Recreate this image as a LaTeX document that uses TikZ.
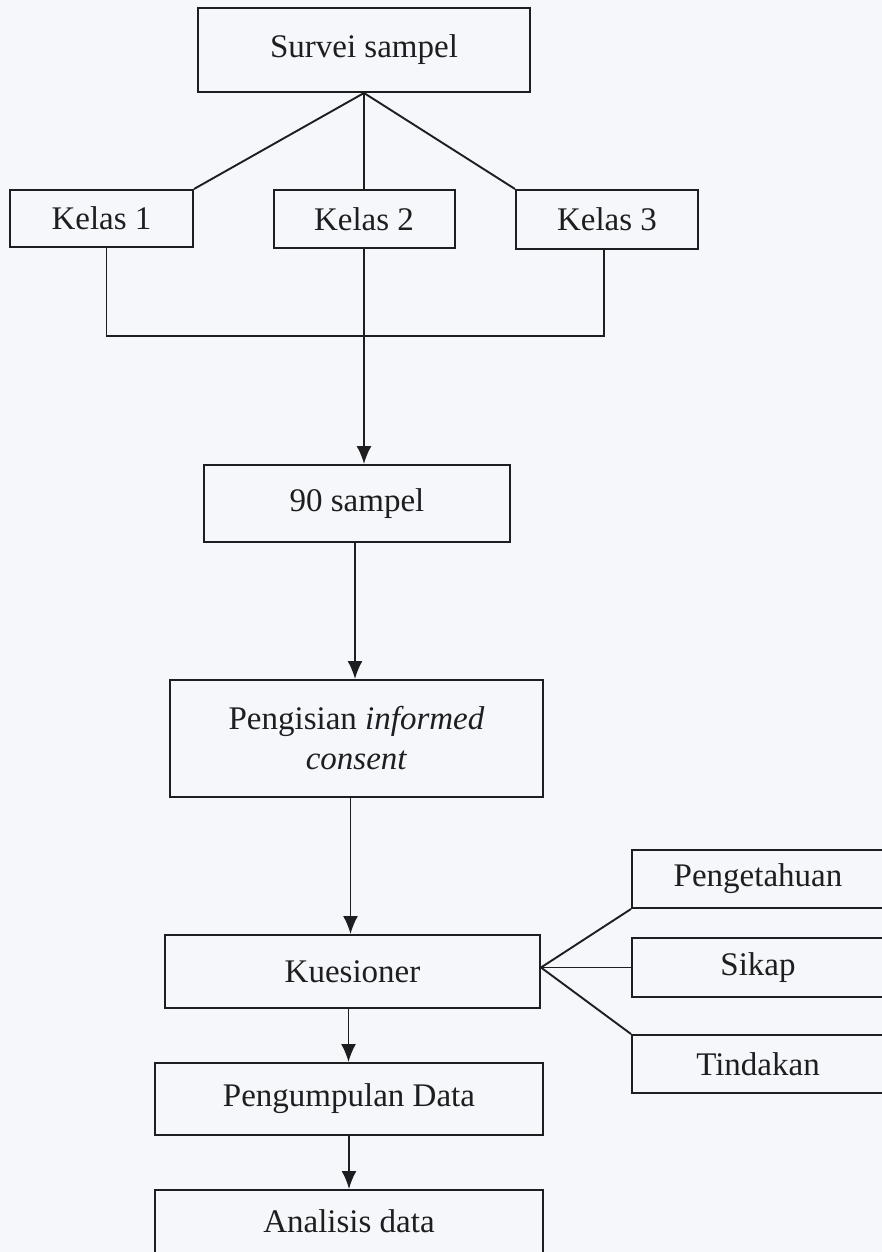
\documentclass[tikz,border=0pt]{standalone}
\usepackage{fontspec}
\setmainfont{Liberation Serif}
\usetikzlibrary{arrows.meta}
\definecolor{paper}{RGB}{246,247,250}
\definecolor{ink}{RGB}{30,30,32}
\begin{document}
\begin{tikzpicture}[x=1pt,y=-1pt,
  box/.style={draw=ink,line width=2pt,rectangle,inner sep=0pt,
    font=\fontsize{33}{40}\selectfont,text=ink},
  link/.style={draw=ink,line width=1.9pt},
  flow/.style={link,-{Latex[length=18pt,width=15pt]}}]
% page and its margins
\fill[paper] (0,0) rectangle (882,1252);
\useasboundingbox (0,0) rectangle (882,1252);
\clip (0,0) rectangle (882,1252);

% sampling stage
\node[box,minimum width=332pt,minimum height=84pt] (survei) at (364,50) {Survei sampel};
\node[box,minimum width=183pt,minimum height=57pt] (kelas1) at (101.5,218.5) {Kelas 1};
\node[box,minimum width=181pt,minimum height=58pt] (kelas2) at (364,219) {Kelas 2};
\node[box,minimum width=182pt,minimum height=59pt] (kelas3) at (607,219.5) {Kelas 3};

% main column
\node[box,minimum width=306pt,minimum height=77pt] (sampel) at (357,503.5) {90 sampel};
\node[box,minimum width=373pt,minimum height=117pt,align=center] (consent) at (356.5,738.5)
  {Pengisian \textit{informed}\\\textit{consent}};
\node[box,minimum width=375pt,minimum height=73pt] (kuesioner) at (352.5,971.5) {Kuesioner};
\node[box,minimum width=388pt,minimum height=72pt] (kumpul) at (349,1099) {Pengumpulan Data};
\node[box,minimum width=388pt,minimum height=84pt,text depth=22pt] (analisis) at (349,1232) {Analisis data};

% questionnaire topics
\node[box,minimum width=252pt,minimum height=58pt] (tahu) at (758,879) {Pengetahuan};
\node[box,minimum width=252pt,minimum height=59pt] (sikap) at (758,967.5) {Sikap};
\node[box,minimum width=252pt,minimum height=58pt] (tindakan) at (758,1064) {Tindakan};

% branches from the survey
\draw[link] (survei.south) -- (kelas1.north east);
\draw[link] (survei.south) -- (kelas2.north);
\draw[link] (survei.south) -- (kelas3.north west);

% classes merged into one sample
\coordinate (joinL) at ([xshift=5pt]kelas1.south);
\coordinate (joinR) at ([xshift=-3pt]kelas3.south);
\draw[link] (joinL) -- ++(0,88) -| (joinR);
\draw[flow] (kelas2.south) -- (kelas2.south |- sampel.north);

% main sequence
\draw[flow] ([xshift=-2pt]sampel.south) -- ([xshift=-2pt]sampel.south |- consent.north);
\draw[flow] ([xshift=-6pt]consent.south) -- ([xshift=-6pt]consent.south |- kuesioner.north);
\draw[flow] ([xshift=-4pt]kuesioner.south) -- ([xshift=-4pt]kuesioner.south |- kumpul.north);
\draw[flow] (kumpul.south) -- (kumpul.south |- analisis.north);

% questionnaire fan-out
\coordinate (hub) at (kuesioner.east |- sikap.west);
\draw[link] (hub) -- (tahu.south west);
\draw[link] (hub) -- (sikap.west);
\draw[link] (hub) -- (tindakan.north west);
\end{tikzpicture}
\end{document}
